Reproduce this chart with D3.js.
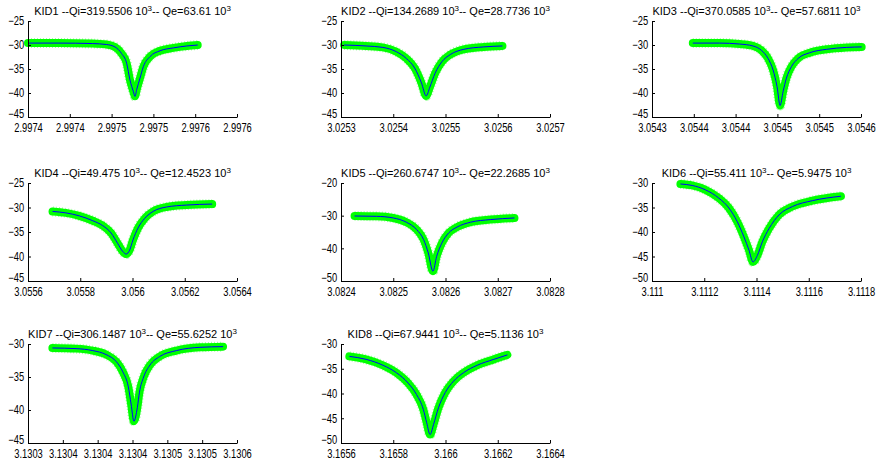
<!DOCTYPE html>
<html><head><meta charset="utf-8">
<script src="https://cdn.jsdelivr.net/npm/d3@7"></script>
<style>
body{margin:0;background:#fff}
svg text{font-family:Arial,"Liberation Sans",Helvetica,sans-serif;fill:#000}
</style>
</head><body>
<svg id="chart" width="878" height="466"></svg>
<script>
// ---------- data ----------
const kidNames = ["KID1","KID2","KID3","KID4","KID5","KID6","KID7","KID8"];
const qiValues = ["319.5506","134.2689","370.0585","49.475","260.6747","55.411","306.1487","67.9441"];
const qeValues = ["63.61","28.7736","57.6811","12.4523","22.2685","5.9475","55.6252","5.1136"];

const kid1X = [2.997400,2.997437,2.997477,2.997494,2.997504,2.997512,2.997518,2.997522,2.997526,2.997528,2.997530,2.997534,2.997538,2.997546,2.997558,2.997574,2.997590,2.997603];
const kid1Y = [-29.6,-29.6,-29.7,-29.9,-30.4,-31.8,-33.8,-37.3,-39.7,-40.7,-39.3,-36.9,-34.5,-32.4,-31.2,-30.6,-30.2,-30.0];
const kid2X = [3.025306,3.025348,3.025380,3.025406,3.025425,3.025441,3.025454,3.025463,3.025470,3.025480,3.025493,3.025509,3.025535,3.025573,3.025609];
const kid2Y = [-30.0,-30.2,-30.5,-31.4,-32.8,-34.8,-37.9,-40.6,-38.8,-35.9,-33.5,-32.0,-30.9,-30.4,-30.2];
const kid3X = [3.0543488,3.0543808,3.0544048,3.0544208,3.0544308,3.0544388,3.0544448,3.0544496,3.0544532,3.0544568,3.0544608,3.0544668,3.0544748,3.0544888,3.0545088,3.0545328,3.0545508];
const kid3Y = [-29.6,-29.6,-29.8,-30.2,-31.1,-32.8,-35.2,-38.7,-42.6,-39.7,-36.9,-34.5,-32.8,-31.6,-30.9,-30.5,-30.4];
const kid4X = [3.055694,3.055745,3.055796,3.055848,3.055886,3.055918,3.055944,3.055963,3.055976,3.055989,3.056002,3.056021,3.056047,3.056079,3.056130,3.056207,3.056305];
const kid4Y = [-30.8,-31.1,-31.7,-32.7,-33.7,-35.2,-37.4,-39.0,-39.5,-38.7,-36.6,-34.2,-32.2,-30.8,-29.9,-29.5,-29.3];
const kid5X = [3.082426,3.082468,3.082500,3.082525,3.082545,3.082558,3.082567,3.082576,3.082583,3.082593,3.082606,3.082622,3.082648,3.082686,3.082732];
const kid5Y = [-30.1,-30.2,-30.7,-32.0,-34.3,-37.3,-41.4,-47.0,-42.5,-38.4,-35.3,-33.5,-32.0,-31.2,-30.7];
const kid6X = [3.1111088,3.1111536,3.1112048,3.1112560,3.1112944,3.1113264,3.1113520,3.1113712,3.1113866,3.1114032,3.1114224,3.1114480,3.1114864,3.1115376,3.1116144,3.1117232];
const kid6Y = [-30.2,-30.5,-31.4,-33.1,-35.1,-37.9,-41.0,-43.7,-46.1,-44.8,-42.0,-39.3,-36.5,-34.8,-33.6,-32.7];
const kid7X = [3.130335,3.130369,3.130393,3.130412,3.130427,3.130436,3.130444,3.130448,3.130452,3.130457,3.130460,3.130466,3.130475,3.130489,3.130513,3.130547,3.130580];
const kid7Y = [-30.6,-30.7,-31.0,-31.6,-32.7,-34.2,-36.5,-39.1,-41.7,-39.6,-37.3,-35.0,-33.2,-31.9,-31.0,-30.5,-30.4];
const kid8X = [3.165632,3.165696,3.165761,3.165812,3.165857,3.165889,3.165915,3.165928,3.165941,3.165954,3.165973,3.165999,3.166031,3.166069,3.166121,3.166185,3.166237];
const kid8Y = [-32.5,-33.1,-34.3,-35.8,-37.9,-40.2,-43.2,-45.9,-48.3,-46.3,-42.9,-39.8,-37.5,-35.8,-34.3,-33.1,-32.2];

const xTicks1 = [2.99740,2.99745,2.99750,2.99755,2.99760,2.99765];
const xLabels1 = ["2.9974","2.9974","2.9975","2.9975","2.9976","2.9976"];
const xTicks2 = [3.0253,3.0254,3.0255,3.0256,3.0257];
const xLabels2 = ["3.0253","3.0254","3.0255","3.0256","3.0257"];
const xTicks3 = [3.05430,3.05435,3.05440,3.05445,3.05450,3.05455];
const xLabels3 = ["3.0543","3.0544","3.0544","3.0545","3.0545","3.0546"];
const xTicks4 = [3.0556,3.0558,3.0560,3.0562,3.0564];
const xLabels4 = ["3.0556","3.0558","3.056","3.0562","3.0564"];
const xTicks5 = [3.0824,3.0825,3.0826,3.0827,3.0828];
const xLabels5 = ["3.0824","3.0825","3.0826","3.0827","3.0828"];
const xTicks6 = [3.1110,3.1112,3.1114,3.1116,3.1118];
const xLabels6 = ["3.111","3.1112","3.1114","3.1116","3.1118"];
const xTicks7 = [3.13030,3.13035,3.13040,3.13045,3.13050,3.13055,3.13060];
const xLabels7 = ["3.1303","3.1304","3.1304","3.1304","3.1305","3.1305","3.1306"];
const xTicks8 = [3.1656,3.1658,3.1660,3.1662,3.1664];
const xLabels8 = ["3.1656","3.1658","3.166","3.1662","3.1664"];

const yTicks1 = [-45,-40,-35,-30,-25];
const yTicks2 = [-45,-40,-35,-30,-25];
const yTicks3 = [-45,-40,-35,-30,-25];
const yTicks4 = [-45,-40,-35,-30,-25];
const yTicks5 = [-50,-40,-30,-20];
const yTicks6 = [-50,-45,-40,-35,-30];
const yTicks7 = [-45,-40,-35,-30];
const yTicks8 = [-50,-45,-40,-35,-30];

// ---------- layout / style ----------
const colLeft = [28, 341, 652];
const plotW = 209;
const rowTop = [21, 183, 344];
const rowBottom = [117, 281, 443];
const GREEN = "#00ff00", BLUE = "#0000ff";
const TICK_SCALE = 0.78, TITLE_SCALE = 1.0;

const panels = [
  {x:kid1X,y:kid1Y,xt:xTicks1,xl:xLabels1,yt:yTicks1},
  {x:kid2X,y:kid2Y,xt:xTicks2,xl:xLabels2,yt:yTicks2},
  {x:kid3X,y:kid3Y,xt:xTicks3,xl:xLabels3,yt:yTicks3},
  {x:kid4X,y:kid4Y,xt:xTicks4,xl:xLabels4,yt:yTicks4},
  {x:kid5X,y:kid5Y,xt:xTicks5,xl:xLabels5,yt:yTicks5},
  {x:kid6X,y:kid6Y,xt:xTicks6,xl:xLabels6,yt:yTicks6},
  {x:kid7X,y:kid7Y,xt:xTicks7,xl:xLabels7,yt:yTicks7},
  {x:kid8X,y:kid8Y,xt:xTicks8,xl:xLabels8,yt:yTicks8}
];

const svg = d3.select("#chart");

panels.forEach((p, i) => {
  const col = i % 3, row = Math.floor(i / 3);
  const left = colLeft[col], top = rowTop[row], bottom = rowBottom[row];
  const h = bottom - top;
  const xs = d3.scaleLinear().domain([p.xt[0], p.xt[p.xt.length-1]]).range([0, plotW]);
  const ys = d3.scaleLinear().domain([p.yt[0], p.yt[p.yt.length-1]]).range([h, 0]);
  const g = svg.append("g").attr("transform", `translate(${left},${top})`);

  const pts = p.x.map((xv, k) => [xv, p.y[k]]);
  const line = d3.line().x(d => xs(d[0])).y(d => ys(d[1])).curve(d3.curveMonotoneX);

  // measured points (dense green markers) shown as a thick band
  g.append("path").attr("d", line(pts)).attr("fill","none")
    .attr("stroke", GREEN).attr("stroke-width", 8)
    .attr("stroke-linejoin","round").attr("stroke-linecap","round");
  g.append("path").attr("d", line(pts)).attr("fill","none")
    .attr("stroke", GREEN).attr("stroke-width", 10).attr("stroke-opacity",0.35)
    .attr("stroke-dasharray","1,2")
    .attr("stroke-linejoin","round");
  // fit line
  g.append("path").attr("d", line(pts)).attr("fill","none")
    .attr("stroke", BLUE).attr("stroke-width", 1);

  const xAxis = d3.axisBottom(xs).tickValues(p.xt)
    .tickFormat((d, k) => p.xl[k]).tickSizeInner(-3).tickSizeOuter(0).tickPadding(6);
  const gx = g.append("g").attr("transform", `translate(0,${h})`).call(xAxis);
  const yAxis = d3.axisLeft(ys).tickValues(p.yt)
    .tickFormat(d3.format("d")).tickSizeInner(-3).tickSizeOuter(0).tickPadding(5);
  const gy = g.append("g").call(yAxis);

  [gx, gy].forEach(a => {
    a.attr("font-size", 12).attr("font-family", "Arial, 'Liberation Sans', sans-serif");
    a.select(".domain").attr("stroke", "#000");
    a.selectAll(".tick line").attr("stroke", "#000");
    a.selectAll(".tick text").attr("font-size", 12);
  });
  gx.selectAll(".tick text").attr("transform", `scale(${TICK_SCALE},1)`);
  gy.selectAll(".tick text").attr("transform", `scale(${TICK_SCALE},1)`);
  // lift the lowest y label slightly so it clears the first x label
  gy.selectAll(".tick text").filter((d, k) => k === 0).attr("y", -3);

  // title
  const t = g.append("text")
    .attr("transform", `translate(${plotW/2},${-6}) scale(${TITLE_SCALE},1)`)
    .attr("text-anchor", "middle").attr("font-size", 11);
  t.append("tspan").text(`${kidNames[i]} --Qi=${qiValues[i]} 10`);
  t.append("tspan").attr("dy", -4).attr("font-size", 8).text("3");
  t.append("tspan").attr("dy", 4).text(`-- Qe=${qeValues[i]} 10`);
  t.append("tspan").attr("dy", -4).attr("font-size", 8).text("3");
});
</script>
</body></html>
